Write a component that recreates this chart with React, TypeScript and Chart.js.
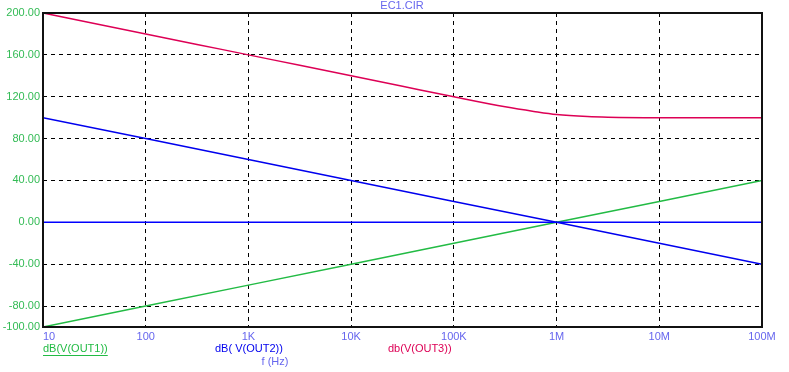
import React, { useEffect, useRef } from "react";
import { Chart, registerables } from "chart.js";

Chart.register(...registerables);

const freqTicks = [10, 100, 1e3, 1e4, 1e5, 1e6, 1e7, 1e8];
const freqLabels = ["10", "100", "1K", "10K", "100K", "1M", "10M", "100M"];
const yTicks = [-100, -80, -40, 0, 40, 80, 120, 160, 200];
const yLabels = ["-100.00", "-80.00", "-40.00", "0.00", "40.00", "80.00", "120.00", "160.00", "200.00"];

const out1Freq = [10, 100, 1e3, 1e4, 1e5, 1e6, 1e7, 1e8];
const out1Db = [-100, -80, -60, -40, -20, 0, 20, 40];

const out2Freq = [10, 100, 1e3, 1e4, 1e5, 1e6, 1e7, 1e8];
const out2Db = [100, 80, 60, 40, 20, 0, -20, -40];

const out3Freq = [10, 31.6, 100, 316, 1e3, 3.16e3, 1e4, 3.16e4, 1e5, 3.16e5, 6e5, 1e6, 2e6, 3.16e6, 1e7, 1e8];
const out3Db = [200, 190, 180, 170, 160, 150, 140, 130, 120, 110.4, 106, 103, 101, 100.4, 100, 100];

const zeroFreq = [10, 1e8];
const zeroDb = [0, 0];

const title = "EC1.CIR";
const legendItems = [
  { text: "dB(V(OUT1))", color: "#22bb44", x: 43, underline: true },
  { text: "dB( V(OUT2))", color: "#0000ee", x: 215, underline: false },
  { text: "db(V(OUT3))", color: "#dd0055", x: 388, underline: false },
];
const xTitle = "f (Hz)";

const FONT = "11px 'Liberation Sans', Arial, sans-serif";

const pts = (xs: number[], ys: number[]) => xs.map((x, i) => ({ x, y: ys[i] }));

export default function App() {
  const ref = useRef<HTMLCanvasElement | null>(null);
  useEffect(() => {
    if (!ref.current) return;
    const textPlugin = {
      id: "texts",
      afterDraw(chart: any) {
        const ctx = chart.ctx;
        const area = chart.chartArea;
        const xs = chart.scales.x;
        ctx.save();
        // frame
        ctx.strokeStyle = "#111";
        ctx.lineWidth = 2;
        ctx.setLineDash([]);
        ctx.strokeRect(area.left, area.top, area.right - area.left, area.bottom - area.top);
        ctx.font = FONT;
        ctx.textBaseline = "middle";
        // x tick labels
        ctx.fillStyle = "#6666ee";
        freqTicks.forEach((f, i) => {
          const px = xs.getPixelForValue(f);
          ctx.textAlign = i === 0 ? "left" : "center";
          ctx.fillText(freqLabels[i], px, area.bottom + 10);
        });
        // title
        ctx.textAlign = "center";
        ctx.fillText(title, 402, 6);
        ctx.fillText(xTitle, 275, 362);
        // legend
        ctx.textAlign = "left";
        legendItems.forEach((it) => {
          ctx.fillStyle = it.color;
          ctx.fillText(it.text, it.x, 349);
          if (it.underline) {
            const w = ctx.measureText(it.text).width;
            ctx.strokeStyle = it.color;
            ctx.lineWidth = 1;
            ctx.beginPath();
            ctx.moveTo(it.x, 355.5);
            ctx.lineTo(it.x + w, 355.5);
            ctx.stroke();
          }
        });
        ctx.restore();
      },
    };
    const chart = new Chart(ref.current, {
      type: "line",
      data: {
        datasets: [
          { label: "zero", data: pts(zeroFreq, zeroDb), borderColor: "#0000ff", borderWidth: 1.5, pointRadius: 0 },
          { label: "OUT1", data: pts(out1Freq, out1Db), borderColor: "#22bb44", borderWidth: 1.5, pointRadius: 0 },
          { label: "OUT2", data: pts(out2Freq, out2Db), borderColor: "#0000ee", borderWidth: 1.5, pointRadius: 0 },
          { label: "OUT3", data: pts(out3Freq, out3Db), borderColor: "#dd0055", borderWidth: 1.5, pointRadius: 0, cubicInterpolationMode: "monotone" as any },
        ],
      },
      options: {
        animation: false,
        responsive: false,
        layout: { padding: { top: 13, right: 27, left: 0, bottom: 0 } },
        plugins: { legend: { display: false }, tooltip: { enabled: false }, title: { display: false } },
        scales: {
          x: {
            type: "logarithmic",
            min: 10,
            max: 1e8,
            afterBuildTicks: (s: any) => { s.ticks = freqTicks.map((v) => ({ value: v })); },
            afterFit: (s: any) => { s.height = 45; },
            ticks: { display: false },
            grid: { color: "#000", lineWidth: 1, drawTicks: false },
            border: { display: false, dash: [4, 4] },
          },
          y: {
            type: "linear",
            min: -100,
            max: 200,
            afterBuildTicks: (s: any) => { s.ticks = yTicks.map((v) => ({ value: v })); },
            afterFit: (s: any) => { s.width = 43; },
            ticks: {
              color: "#33bb55",
              font: { family: "'Liberation Sans', Arial, sans-serif", size: 11 },
              padding: 3,
              autoSkip: false,
              callback: (v: any) => { const i = yTicks.indexOf(Number(v)); return i >= 0 ? yLabels[i] : ""; },
            },
            grid: { color: "#000", lineWidth: 1, drawTicks: false },
            border: { display: false, dash: [4, 4] },
          },
        },
      },
      plugins: [textPlugin],
    });
    return () => chart.destroy();
  }, []);
  return (
    <div style={{ position: "fixed", left: 0, top: 0, width: 789, height: 372, background: "#fff" }}>
      <canvas ref={ref} width={789} height={372} style={{ display: "block" }} />
    </div>
  );
}
